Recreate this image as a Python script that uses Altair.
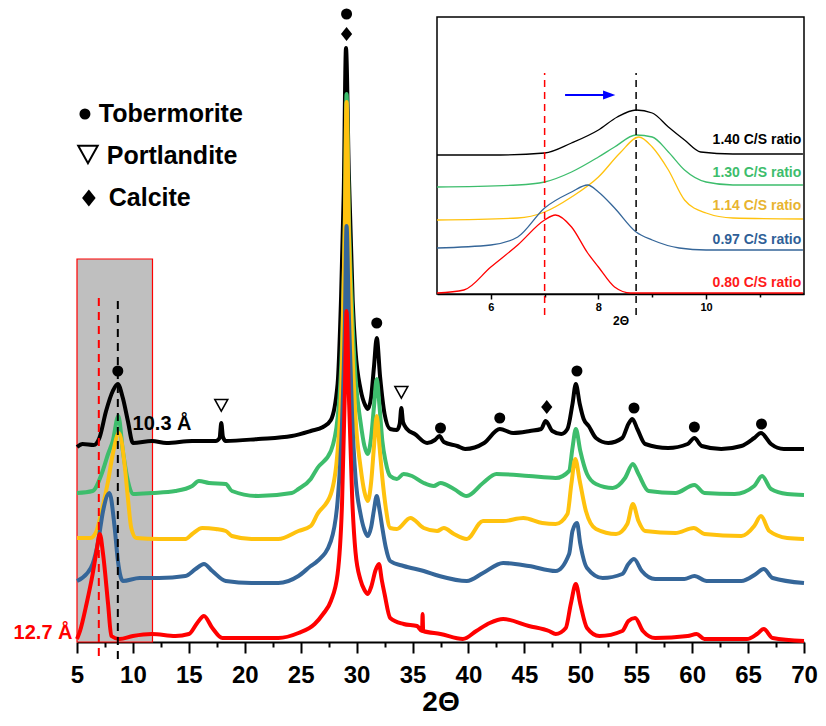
import altair as alt
import pandas as pd

FONT = "Liberation Sans, Arial, sans-serif"

# ---------------- main XRD patterns (2θ, intensity a.u.) ----------------
black_x = [5.0, 5.5, 6.5, 7.0, 7.6, 8.2, 8.65, 9.1, 9.55, 10.0, 11.7, 13.0, 15.3, 17.4, 17.75, 17.9, 18.05, 18.3,
           21.2, 24.2, 25.9, 27.0, 27.7, 28.3, 28.6, 28.85, 29.05, 29.3, 29.65, 29.9, 30.35, 30.8, 31.0, 31.3,
           31.55, 31.8, 32.1, 32.5, 33.0, 33.6, 33.85, 34.0, 34.15, 34.5, 35.2, 36.3, 37.0, 37.4, 37.8, 39.0,
           39.7, 41.4, 42.8, 44.0, 45.5, 46.5, 46.9, 47.5, 48.3, 48.85, 49.3, 49.6, 49.95, 50.3, 50.75, 51.4,
           52.5, 53.75, 54.3, 54.65, 55.1, 55.8, 57.85, 59.6, 60.2, 60.85, 62.6, 64.4, 65.55, 66.15, 67.05,
           68.2, 70.0]
black_y = [195, 198, 197, 204, 231, 251, 258, 244, 221, 199, 201, 199, 201, 201, 204, 219, 205, 201,
           203, 206, 211, 215, 222, 258, 341, 450, 594, 470, 341, 291, 253, 236, 233, 245,
           275, 304, 265, 228, 213, 212, 218, 234, 220, 213, 208, 199, 202, 206, 200, 196,
           193, 199, 213, 209, 211, 213, 221, 211, 208, 213, 238, 258, 238, 223, 216, 204,
           199, 204, 218, 223, 213, 198, 194, 198, 204, 196, 193, 196, 204, 209, 198,
           193, 193]

green_x = [5.0, 6.4, 7.2, 7.78, 8.2, 8.7, 9.1, 9.55, 10.0, 11.7, 13.8, 15.3, 15.9, 16.8, 18.3, 18.85, 21.2,
           24.2, 24.8, 25.9, 26.5, 27.7, 28.3, 28.7, 28.95, 29.1, 29.3, 29.6, 29.9, 30.35, 30.7, 31.0, 31.3,
           31.55, 31.8, 32.05, 32.3, 32.6, 33.0, 33.6, 34.2, 34.95, 36.0, 36.9, 37.5, 38.7, 39.85, 41.3,
           42.5, 45.4, 47.8, 49.0, 49.3, 49.6, 50.0, 50.6, 51.4, 52.9, 54.0, 54.7, 55.2, 56.1, 58.5, 60.2,
           61.1, 63.8, 65.55, 66.25, 67.05, 68.5, 70.0]
green_y = [149, 151, 168, 188, 201, 226, 191, 161, 148, 149, 151, 156, 161, 159, 158, 151, 146,
           149, 153, 163, 174, 191, 224, 300, 420, 548, 430, 330, 265, 220, 196, 188, 205,
           235, 263, 235, 201, 180, 166, 163, 168, 166, 159, 156, 159, 153, 146, 159,
           168, 166, 164, 171, 194, 213, 191, 168, 158, 154, 164, 178, 168, 151, 149, 157,
           149, 148, 156, 166, 153, 148, 147]

yellow_x = [5.0, 6.2, 6.75, 7.2, 7.78, 8.2, 8.75, 9.25, 9.55, 9.85, 10.3, 12.35, 14.7, 15.3, 16.2, 17.4,
            18.3, 18.85, 20.6, 23.0, 24.8, 25.9, 26.5, 27.7, 28.3, 28.7, 28.95, 29.1, 29.3, 29.6, 29.9,
            30.35, 30.7, 31.0, 31.3, 31.55, 31.8, 32.05, 32.3, 32.6, 33.0, 33.6, 34.8, 36.0, 37.2, 37.8,
            38.7, 39.85, 41.3, 43.1, 44.9, 46.6, 47.8, 48.85, 49.2, 49.55, 49.95, 50.5, 51.4, 53.2, 54.2,
            54.7, 55.2, 55.8, 58.5, 60.15, 61.1, 64.4, 65.55, 66.15, 66.9, 68.5, 70.0]
yellow_y = [104, 104, 111, 131, 161, 188, 209, 178, 144, 114, 104, 103, 103, 108, 114, 113,
            111, 106, 103, 103, 111, 116, 128, 148, 191, 280, 420, 540, 415, 300, 225,
            175, 150, 141, 160, 195, 226, 195, 164, 135, 114, 113, 124, 114, 111, 114,
            108, 103, 121, 121, 124, 119, 118, 128, 158, 183, 161, 131, 113, 108, 118,
            138, 121, 111, 109, 114, 108, 106, 116, 126, 111, 104, 103]

blue_x = [5.0, 5.85, 6.4, 6.9, 7.33, 7.9, 8.37, 8.66, 9.1, 10.6, 12.35, 14.7, 15.6, 16.35, 17.1, 18.3, 20.6,
          23.0, 24.8, 25.9, 26.5, 27.7, 28.3, 28.7, 28.95, 29.1, 29.3, 29.6, 29.9, 30.35, 30.7, 31.0, 31.3,
          31.55, 31.8, 32.05, 32.3, 32.6, 33.0, 34.2, 36.0, 37.4, 39.85, 41.3, 43.1, 45.4, 47.8, 49.0, 49.3,
          49.7, 50.0, 50.6, 52.0, 53.75, 54.3, 54.8, 55.5, 56.7, 59.3, 60.2, 61.3, 64.4, 65.7, 66.4, 67.2,
          70.0]
blue_y = [61, 68, 78, 101, 131, 149, 114, 81, 61, 64, 64, 66, 73, 78, 71, 61, 59,
          59, 66, 76, 81, 101, 141, 220, 320, 416, 330, 225, 165, 128, 112, 106, 115,
          132, 146, 132, 114, 95, 81, 76, 71, 66, 61, 69, 79, 76, 71, 88, 111,
          119, 98, 74, 64, 68, 78, 83, 71, 63, 63, 66, 61, 61, 68, 73, 64,
          59]

red_x = [5.0, 5.27, 5.85, 6.4, 6.75, 7.04, 7.33, 7.78, 8.07, 8.8, 10.0, 11.7, 13.8, 15.0, 15.75, 16.35, 17.1,
         18.0, 20.0, 23.0, 24.8, 26.25, 27.0, 27.7, 28.3, 28.7, 28.95, 29.1, 29.3, 29.6, 29.9, 30.35, 30.7,
         31.0, 31.3, 31.7, 32.0, 32.25, 32.5, 33.0, 34.2, 35.4, 35.85, 35.9, 35.95, 37.5, 39.5, 40.7, 41.9,
         43.1, 45.4, 47.2, 47.8, 48.7, 49.15, 49.6, 50.0, 50.6, 51.7, 53.75, 54.3, 54.9, 55.6, 56.7, 59.6,
         60.4, 61.1, 64.9, 65.8, 66.4, 67.2, 70.0]
red_y = [3, 11, 38, 68, 91, 108, 88, 38, 6, 3, 6, 8, 6, 8, 19, 26, 14,
         4, 4, 4, 9, 18, 28, 41, 68, 140, 250, 331, 250, 145, 90, 62, 52,
         48, 55, 72, 78, 62, 48, 24, 18, 16, 11, 28, 11, 8, 3, 11, 19,
         23, 16, 11, 8, 14, 38, 58, 38, 14, 6, 11, 21, 24, 11, 4, 6,
         8, 3, 3, 8, 13, 4, 1]

main_series = [
    ("#000000", black_x, black_y),
    ("#3dbd6c", green_x, green_y),
    ("#ffc20e", yellow_x, yellow_y),
    ("#356699", blue_x, blue_y),
    ("#ff0000", red_x, red_y),
]

# phase markers (2θ, height)
tob_x = [8.65, 29.1, 31.8, 37.5, 42.8, 49.7, 54.8, 60.2, 66.2]
tob_y = [271, 628, 319, 214, 224, 271, 234, 215, 218]
port_x = [17.9, 34.0]
port_y = [237, 250]
calc_x = [29.1, 47.0]
calc_y = [608, 235]

# ---------------- inset (low-angle region) ----------------
in_black_x = [5.0, 6.0, 7.0, 7.5, 8.0, 8.35, 8.7, 9.0, 9.3, 9.6, 9.9, 10.5, 11.8]
in_black_y = [139, 139, 141, 151, 164, 177, 184, 181, 167, 154, 142, 140, 140]
in_green_x = [5.0, 6.5, 7.0, 7.5, 8.0, 8.3, 8.7, 9.0, 9.3, 9.6, 10.0, 10.5, 11.8]
in_green_y = [107, 109, 112, 122, 137, 147, 159, 157, 142, 124, 112, 109, 109]
in_yellow_x = [5.0, 6.5, 7.0, 7.5, 8.0, 8.4, 8.75, 9.0, 9.3, 9.6, 10.0, 10.5, 11.8]
in_yellow_y = [74, 76, 82, 97, 117, 141, 157, 147, 124, 94, 81, 76, 75]
in_blue_x = [5.0, 6.0, 6.5, 7.0, 7.5, 7.8, 8.0, 8.3, 8.7, 9.0, 9.5, 10.0, 11.8]
in_blue_y = [46, 49, 57, 86, 102, 109, 102, 86, 62, 54, 46, 44, 44]
in_red_x = [5.0, 5.5, 6.0, 6.5, 7.0, 7.2, 7.5, 7.8, 8.0, 8.3, 8.6, 11.8]
in_red_y = [1, 4, 27, 49, 74, 79, 67, 41, 27, 7, 1, 1]

inset_series = [
    ("#000000", in_black_x, in_black_y),
    ("#3dbd6c", in_green_x, in_green_y),
    ("#ffc20e", in_yellow_x, in_yellow_y),
    ("#356699", in_blue_x, in_blue_y),
    ("#ff0000", in_red_x, in_red_y),
]
ratio_labels = ["1.40 C/S ratio", "1.30 C/S ratio", "1.14 C/S ratio", "0.97 C/S ratio", "0.80 C/S ratio"]
ratio_colors = ["#000000", "#3dbd6c", "#e8b430", "#2f5f97", "#ff1a1a"]
ratio_y = [154, 121, 88, 54, 11]

# ---------------- scales & axes ----------------
XM = alt.Scale(domain=[5, 70], nice=False, zero=False)
YM = alt.Scale(domain=[0, 634], nice=False, zero=False)
XI = alt.Scale(domain=[5, 11.82], range=[360, 727], nice=False, zero=False)
YI = alt.Scale(domain=[0, 277], range=[286, 9], nice=False, zero=False)

AX_MAIN = alt.Axis(
    values=[5 + 2.5 * i for i in range(27)],
    labelExpr="datum.value % 5 === 0 ? format(datum.value, 'd') : ''",
    tickSize={"condition": {"test": "datum.value % 5 === 0", "value": 11}, "value": 5},
    tickWidth=2, tickColor="black", domainWidth=2, domainColor="black",
    labelFont=FONT, labelFontSize=24, labelFontWeight="bold", labelColor="black",
    labelPadding=10, labelOverlap=False, labelFlush=False, labelBound=False,
    title="2Θ", titleFont=FONT, titleFontSize=28, titleFontWeight="bold", titleColor="black",
    titlePadding=1, grid=False, orient="bottom",
)
AX_INSET = alt.Axis(
    values=[6, 7, 8, 9, 10, 11],
    labelExpr="datum.value % 2 === 0 ? format(datum.value, 'd') : ''",
    tickSize={"condition": {"test": "datum.value % 2 === 0", "value": 5}, "value": 3},
    tickWidth=1.5, tickColor="black", domainWidth=1.5, domainColor="black",
    labelFont=FONT, labelFontSize=11, labelFontWeight="bold", labelColor="black",
    labelPadding=2, labelOverlap=False, labelFlush=False,
    title="2Θ", titleFont=FONT, titleFontSize=12, titleFontWeight="bold", titleColor="black",
    titlePadding=3, grid=False, orient="bottom", offset=-348,
)


def mx(field="x"):
    return alt.X(f"{field}:Q", scale=XM, axis=AX_MAIN)


def my(field="y"):
    return alt.Y(f"{field}:Q", scale=YM, axis=None)


def ix(field="x"):
    return alt.X(f"{field}:Q", scale=XI, axis=AX_INSET)


def iy(field="y"):
    return alt.Y(f"{field}:Q", scale=YI, axis=None)


# ---------------- main layers ----------------
layers = []
gray = alt.Chart(pd.DataFrame({"x": [5.0], "x2": [11.75], "y": [0], "y2": [383]})).mark_rect(
    fill="#bfbfbf", stroke="#ff0000", strokeWidth=1.2
).encode(x=mx(), x2="x2:Q", y=my(), y2="y2:Q")
layers.append(gray)

for color, xs, ys in main_series:
    df = pd.DataFrame({"x": xs, "y": ys})
    layers.append(
        alt.Chart(df).mark_line(color=color, strokeWidth=4, strokeJoin="round", interpolate="monotone")
        .encode(x=mx(), y=my(), order="x:Q")
    )

dash_df_red = pd.DataFrame({"x": [6.95], "y": [-14], "y2": [346]})
dash_df_blk = pd.DataFrame({"x": [8.65], "y": [-17], "y2": [344]})
layers.append(alt.Chart(dash_df_red).mark_rule(color="#ff0000", strokeWidth=2, strokeDash=[8, 6])
              .encode(x=mx(), y=my(), y2="y2:Q"))
layers.append(alt.Chart(dash_df_blk).mark_rule(color="#000000", strokeWidth=2, strokeDash=[8, 6])
              .encode(x=mx(), y=my(), y2="y2:Q"))

CIRCLE = "circle"
TRI = "M-1,-0.85L1,-0.85L0,0.95Z"
DIAM = "M0,-1L0.8,0L0,1L-0.8,0Z"


def points(xs, ys, shape, size, filled, sw=1.6):
    df = pd.DataFrame({"x": xs, "y": ys})
    return alt.Chart(df).mark_point(
        shape=shape, size=size, filled=filled, color="black", strokeWidth=sw, opacity=1
    ).encode(x=mx(), y=my())


layers.append(points(tob_x, tob_y, CIRCLE, 121, True))
layers.append(points(port_x, port_y, TRI, 169, False, 1.5))
layers.append(points(calc_x, calc_y, DIAM, 196, True))

# legend
layers.append(points([5.71], [528], CIRCLE, 121, True))
layers.append(points([5.98], [488], TRI, 380, False, 2))
layers.append(points([6.06], [444], DIAM, 289, True))
legend_df = pd.DataFrame({"x": [6.95, 7.66, 7.84], "y": [528, 486, 444],
                          "t": ["Tobermorite", "Portlandite", "Calcite"]})
layers.append(alt.Chart(legend_df).mark_text(
    align="left", baseline="middle", font=FONT, fontSize=25, fontWeight="bold", color="black"
).encode(x=mx(), y=my(), text="t:N"))

# d-spacing labels
d_df1 = pd.DataFrame({"x": [9.97], "y": [218], "t": ["10.3 Å"]})
d_df2 = pd.DataFrame({"x": [4.6], "y": [9], "t": ["12.7 Å"]})
layers.append(alt.Chart(d_df1).mark_text(
    align="left", baseline="middle", font=FONT, fontSize=20, fontWeight="bold", color="black"
).encode(x=mx(), y=my(), text="t:N"))
layers.append(alt.Chart(d_df2).mark_text(
    align="right", baseline="middle", font=FONT, fontSize=20, fontWeight="bold", color="#ff0000"
).encode(x=mx(), y=my(), text="t:N"))

main = alt.layer(*layers)

# ---------------- inset layers ----------------
ilayers = []
frame = alt.Chart(pd.DataFrame({"x": [5.0], "x2": [11.82], "y": [0], "y2": [277]})).mark_rect(
    fill="white", stroke="black", strokeWidth=1.5
).encode(x=ix(), x2="x2:Q", y=iy(), y2="y2:Q")
ilayers.append(frame)

for color, xs, ys in inset_series:
    df = pd.DataFrame({"x": xs, "y": ys})
    ilayers.append(
        alt.Chart(df).mark_line(color=color, strokeWidth=1.3, interpolate="monotone")
        .encode(x=ix(), y=iy(), order="x:Q")
    )

ilayers.append(alt.Chart(pd.DataFrame({"x": [7.0], "y": [-21], "y2": [221]})).mark_rule(
    color="#ff0000", strokeWidth=1.5, strokeDash=[7, 5]).encode(x=ix(), y=iy(), y2="y2:Q"))
ilayers.append(alt.Chart(pd.DataFrame({"x": [8.7], "y": [-21], "y2": [221]})).mark_rule(
    color="#000000", strokeWidth=1.5, strokeDash=[7, 5]).encode(x=ix(), y=iy(), y2="y2:Q"))

arrow_df = pd.DataFrame({"x": [7.38], "x2": [8.12], "y": [199]})
ilayers.append(alt.Chart(arrow_df).mark_rule(color="#0000ff", strokeWidth=2)
               .encode(x=ix(), x2="x2:Q", y=iy()))
head_df = pd.DataFrame({"x": [8.2], "y": [199]})
ilayers.append(alt.Chart(head_df).mark_point(
    shape="M-1,-0.75L1,0L-1,0.75Z", size=150, filled=True, color="#0000ff", opacity=1
).encode(x=ix(), y=iy()))

for lab, col, yv in zip(ratio_labels, ratio_colors, ratio_y):
    ilayers.append(alt.Chart(pd.DataFrame({"x": [11.77], "y": [yv], "t": [lab]})).mark_text(
        align="right", baseline="middle", font=FONT, fontSize=14, fontWeight="bold", color=col
    ).encode(x=ix(), y=iy(), text="t:N"))

inset = alt.layer(*ilayers)

chart = alt.layer(main, inset).resolve_scale(x="independent", y="independent").resolve_axis(
    x="independent", y="independent"
).properties(
    width=727, height=634,
    padding={"left": 69, "top": 0, "right": 14, "bottom": 76},
    autosize=alt.AutoSizeParams(type="none"),
    background="white",
).configure_view(stroke=None)

chart.save("out.html", embed_options={"renderer": "svg", "actions": False})
